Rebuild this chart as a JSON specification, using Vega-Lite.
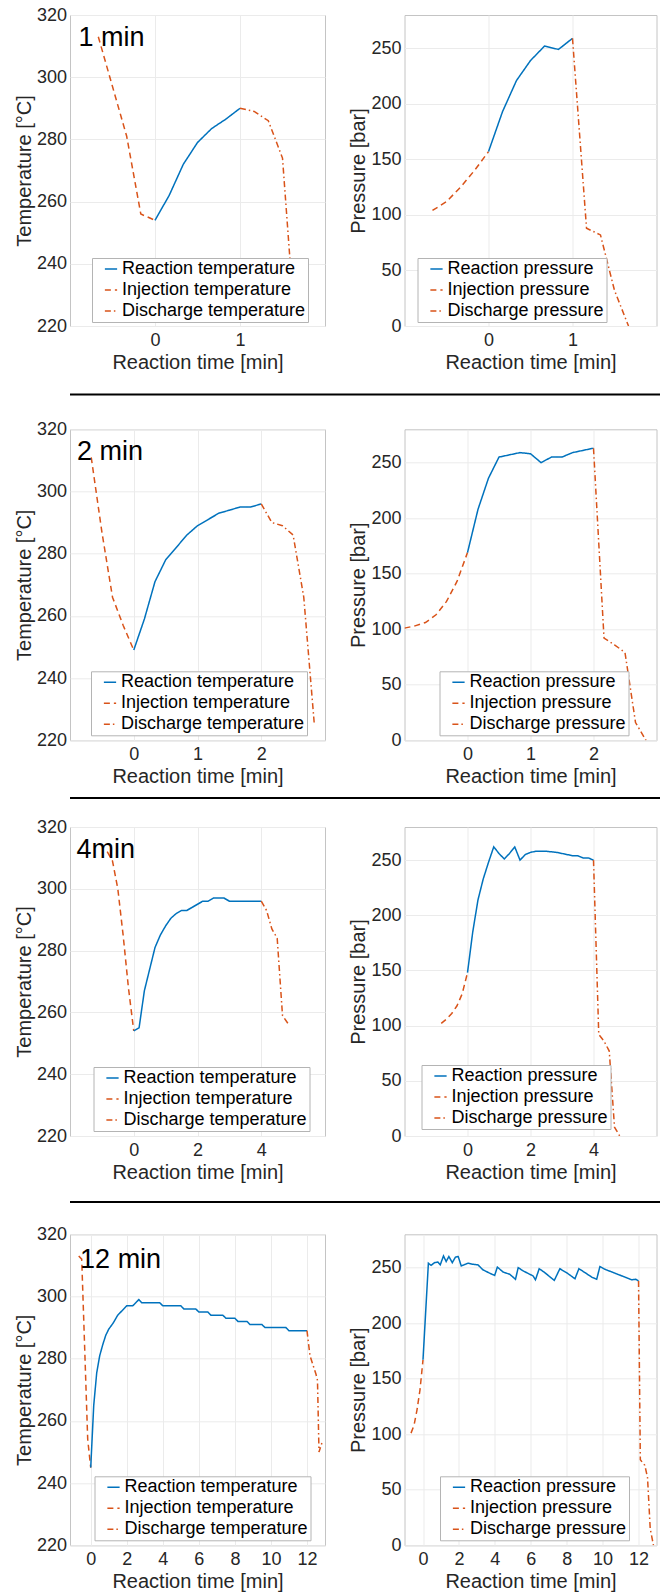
{
"$schema": "https://vega.github.io/schema/vega-lite/v6.json",
"padding": {"left": 13, "top": 5, "right": 0, "bottom": 0},
"background": "white",
"datasets": {
"p1T": [
{"s":"Injection temperature","t":-0.667,"v":313},{"s":"Injection temperature","t":-0.5,"v":297},{"s":"Injection temperature","t":-0.333,"v":281},{"s":"Injection temperature","t":-0.167,"v":256},{"s":"Injection temperature","t":0,"v":254},
{"s":"Reaction temperature","t":0,"v":254},{"s":"Reaction temperature","t":0.167,"v":262},{"s":"Reaction temperature","t":0.333,"v":272},{"s":"Reaction temperature","t":0.5,"v":279},{"s":"Reaction temperature","t":0.667,"v":283.5},{"s":"Reaction temperature","t":0.833,"v":286.5},{"s":"Reaction temperature","t":1,"v":290},
{"s":"Discharge temperature","t":1,"v":290},{"s":"Discharge temperature","t":1.167,"v":289},{"s":"Discharge temperature","t":1.333,"v":286},{"s":"Discharge temperature","t":1.5,"v":274},{"s":"Discharge temperature","t":1.64,"v":222}
],
"p1P": [
{"s":"Injection pressure","t":-0.667,"v":104},{"s":"Injection pressure","t":-0.5,"v":112},{"s":"Injection pressure","t":-0.333,"v":125},{"s":"Injection pressure","t":-0.167,"v":140},{"s":"Injection pressure","t":0,"v":157},
{"s":"Reaction pressure","t":0,"v":157},{"s":"Reaction pressure","t":0.167,"v":193},{"s":"Reaction pressure","t":0.333,"v":221},{"s":"Reaction pressure","t":0.5,"v":239},{"s":"Reaction pressure","t":0.667,"v":252},{"s":"Reaction pressure","t":0.833,"v":249},{"s":"Reaction pressure","t":1,"v":259},
{"s":"Discharge pressure","t":1,"v":259},{"s":"Discharge pressure","t":1.167,"v":88},{"s":"Discharge pressure","t":1.333,"v":82},{"s":"Discharge pressure","t":1.5,"v":32},{"s":"Discharge pressure","t":1.667,"v":0}
],
"p2T": [
{"s":"Injection temperature","t":-0.667,"v":311},{"s":"Injection temperature","t":-0.5,"v":287},{"s":"Injection temperature","t":-0.333,"v":266},{"s":"Injection temperature","t":-0.167,"v":257},{"s":"Injection temperature","t":0,"v":249},
{"s":"Reaction temperature","t":0,"v":249},{"s":"Reaction temperature","t":0.167,"v":259},{"s":"Reaction temperature","t":0.333,"v":271},{"s":"Reaction temperature","t":0.5,"v":278},{"s":"Reaction temperature","t":0.667,"v":282},{"s":"Reaction temperature","t":0.833,"v":286},{"s":"Reaction temperature","t":1,"v":289},{"s":"Reaction temperature","t":1.167,"v":291},{"s":"Reaction temperature","t":1.333,"v":293},{"s":"Reaction temperature","t":1.5,"v":294},{"s":"Reaction temperature","t":1.667,"v":295},{"s":"Reaction temperature","t":1.833,"v":295},{"s":"Reaction temperature","t":2,"v":296},
{"s":"Discharge temperature","t":2,"v":296},{"s":"Discharge temperature","t":2.167,"v":290},{"s":"Discharge temperature","t":2.333,"v":289},{"s":"Discharge temperature","t":2.5,"v":286},{"s":"Discharge temperature","t":2.667,"v":266},{"s":"Discharge temperature","t":2.833,"v":225}
],
"p2P": [
{"s":"Injection pressure","t":-1,"v":101},{"s":"Injection pressure","t":-0.833,"v":103},{"s":"Injection pressure","t":-0.667,"v":106},{"s":"Injection pressure","t":-0.5,"v":113},{"s":"Injection pressure","t":-0.333,"v":125},{"s":"Injection pressure","t":-0.167,"v":143},{"s":"Injection pressure","t":0,"v":169},
{"s":"Reaction pressure","t":0,"v":169},{"s":"Reaction pressure","t":0.167,"v":208},{"s":"Reaction pressure","t":0.333,"v":236},{"s":"Reaction pressure","t":0.5,"v":255},{"s":"Reaction pressure","t":0.667,"v":257},{"s":"Reaction pressure","t":0.833,"v":259},{"s":"Reaction pressure","t":1,"v":258},{"s":"Reaction pressure","t":1.167,"v":250},{"s":"Reaction pressure","t":1.333,"v":255},{"s":"Reaction pressure","t":1.5,"v":255},{"s":"Reaction pressure","t":1.667,"v":259},{"s":"Reaction pressure","t":1.833,"v":261},{"s":"Reaction pressure","t":2,"v":263},
{"s":"Discharge pressure","t":2,"v":263},{"s":"Discharge pressure","t":2.167,"v":92},{"s":"Discharge pressure","t":2.333,"v":86},{"s":"Discharge pressure","t":2.5,"v":79},{"s":"Discharge pressure","t":2.667,"v":16},{"s":"Discharge pressure","t":2.833,"v":0}
],
"p3T": [
{"s":"Injection temperature","t":-0.833,"v":312},{"s":"Injection temperature","t":-0.667,"v":309},{"s":"Injection temperature","t":-0.5,"v":300},{"s":"Injection temperature","t":-0.333,"v":285},{"s":"Injection temperature","t":-0.167,"v":268},{"s":"Injection temperature","t":0,"v":254},
{"s":"Reaction temperature","t":0,"v":254},{"s":"Reaction temperature","t":0.167,"v":255},{"s":"Reaction temperature","t":0.333,"v":267},{"s":"Reaction temperature","t":0.5,"v":274},{"s":"Reaction temperature","t":0.667,"v":281},{"s":"Reaction temperature","t":0.833,"v":285},{"s":"Reaction temperature","t":1,"v":288},{"s":"Reaction temperature","t":1.167,"v":290.5},{"s":"Reaction temperature","t":1.333,"v":292},{"s":"Reaction temperature","t":1.5,"v":293},{"s":"Reaction temperature","t":1.667,"v":293},{"s":"Reaction temperature","t":1.833,"v":294},{"s":"Reaction temperature","t":2,"v":295},{"s":"Reaction temperature","t":2.167,"v":296},{"s":"Reaction temperature","t":2.333,"v":296},{"s":"Reaction temperature","t":2.5,"v":297},{"s":"Reaction temperature","t":2.667,"v":297},{"s":"Reaction temperature","t":2.833,"v":297},{"s":"Reaction temperature","t":3,"v":296},{"s":"Reaction temperature","t":3.5,"v":296},{"s":"Reaction temperature","t":4,"v":296},
{"s":"Discharge temperature","t":4,"v":296},{"s":"Discharge temperature","t":4.167,"v":293},{"s":"Discharge temperature","t":4.333,"v":287},{"s":"Discharge temperature","t":4.5,"v":284},{"s":"Discharge temperature","t":4.667,"v":259},{"s":"Discharge temperature","t":4.833,"v":256.5}
],
"p3P": [
{"s":"Injection pressure","t":-0.833,"v":102},{"s":"Injection pressure","t":-0.667,"v":106},{"s":"Injection pressure","t":-0.5,"v":111},{"s":"Injection pressure","t":-0.333,"v":118},{"s":"Injection pressure","t":-0.167,"v":129},{"s":"Injection pressure","t":0,"v":148},
{"s":"Reaction pressure","t":0,"v":148},{"s":"Reaction pressure","t":0.167,"v":185},{"s":"Reaction pressure","t":0.333,"v":214},{"s":"Reaction pressure","t":0.5,"v":233},{"s":"Reaction pressure","t":0.667,"v":248},{"s":"Reaction pressure","t":0.833,"v":262},{"s":"Reaction pressure","t":1,"v":256},{"s":"Reaction pressure","t":1.167,"v":251},{"s":"Reaction pressure","t":1.333,"v":256},{"s":"Reaction pressure","t":1.5,"v":262},{"s":"Reaction pressure","t":1.667,"v":250},{"s":"Reaction pressure","t":1.833,"v":255},{"s":"Reaction pressure","t":2,"v":257},{"s":"Reaction pressure","t":2.167,"v":258},{"s":"Reaction pressure","t":2.5,"v":258},{"s":"Reaction pressure","t":2.833,"v":257},{"s":"Reaction pressure","t":3,"v":256},{"s":"Reaction pressure","t":3.333,"v":254},{"s":"Reaction pressure","t":3.5,"v":254},{"s":"Reaction pressure","t":3.667,"v":252},{"s":"Reaction pressure","t":3.833,"v":252},{"s":"Reaction pressure","t":4,"v":250},
{"s":"Discharge pressure","t":4,"v":250},{"s":"Discharge pressure","t":4.167,"v":92},{"s":"Discharge pressure","t":4.333,"v":86},{"s":"Discharge pressure","t":4.5,"v":77},{"s":"Discharge pressure","t":4.667,"v":8},{"s":"Discharge pressure","t":4.833,"v":0}
],
"p4T": [
{"s":"Injection temperature","t":-0.667,"v":313},{"s":"Injection temperature","t":-0.5,"v":312},{"s":"Injection temperature","t":-0.333,"v":283},{"s":"Injection temperature","t":-0.167,"v":254},{"s":"Injection temperature","t":0,"v":245},
{"s":"Reaction temperature","t":0,"v":245},{"s":"Reaction temperature","t":0.167,"v":265},{"s":"Reaction temperature","t":0.333,"v":275.5},{"s":"Reaction temperature","t":0.5,"v":281},{"s":"Reaction temperature","t":0.667,"v":284.5},{"s":"Reaction temperature","t":0.833,"v":287.5},{"s":"Reaction temperature","t":1,"v":289.5},{"s":"Reaction temperature","t":1.25,"v":291.5},{"s":"Reaction temperature","t":1.5,"v":294},{"s":"Reaction temperature","t":1.75,"v":295.5},{"s":"Reaction temperature","t":2,"v":297},{"s":"Reaction temperature","t":2.33,"v":297},{"s":"Reaction temperature","t":2.5,"v":298},{"s":"Reaction temperature","t":2.67,"v":299},{"s":"Reaction temperature","t":2.83,"v":298},{"s":"Reaction temperature","t":3.83,"v":298},{"s":"Reaction temperature","t":4,"v":297},{"s":"Reaction temperature","t":5,"v":297},{"s":"Reaction temperature","t":5.17,"v":296},{"s":"Reaction temperature","t":5.83,"v":296},{"s":"Reaction temperature","t":6,"v":295},{"s":"Reaction temperature","t":6.5,"v":295},{"s":"Reaction temperature","t":6.67,"v":294},{"s":"Reaction temperature","t":7.33,"v":294},{"s":"Reaction temperature","t":7.5,"v":293},{"s":"Reaction temperature","t":8,"v":293},{"s":"Reaction temperature","t":8.17,"v":292},{"s":"Reaction temperature","t":8.67,"v":292},{"s":"Reaction temperature","t":8.83,"v":291},{"s":"Reaction temperature","t":9.5,"v":291},{"s":"Reaction temperature","t":9.67,"v":290},{"s":"Reaction temperature","t":10.83,"v":290},{"s":"Reaction temperature","t":11,"v":289},{"s":"Reaction temperature","t":12,"v":289},
{"s":"Discharge temperature","t":12,"v":289},{"s":"Discharge temperature","t":12.167,"v":281},{"s":"Discharge temperature","t":12.5,"v":275},{"s":"Discharge temperature","t":12.583,"v":273},{"s":"Discharge temperature","t":12.667,"v":250},{"s":"Discharge temperature","t":12.833,"v":253}
],
"p4P": [
{"s":"Injection pressure","t":-0.667,"v":101},{"s":"Injection pressure","t":-0.5,"v":108},{"s":"Injection pressure","t":-0.333,"v":122},{"s":"Injection pressure","t":-0.167,"v":140},{"s":"Injection pressure","t":0,"v":167},
{"s":"Reaction pressure","t":0,"v":167},{"s":"Reaction pressure","t":0.3,"v":254},{"s":"Reaction pressure","t":0.45,"v":252},{"s":"Reaction pressure","t":0.64,"v":254.5},{"s":"Reaction pressure","t":0.83,"v":255},{"s":"Reaction pressure","t":0.96,"v":252.5},{"s":"Reaction pressure","t":1.14,"v":260.5},{"s":"Reaction pressure","t":1.29,"v":255.5},{"s":"Reaction pressure","t":1.44,"v":260},{"s":"Reaction pressure","t":1.63,"v":254.5},{"s":"Reaction pressure","t":1.81,"v":259.5},{"s":"Reaction pressure","t":1.96,"v":260},{"s":"Reaction pressure","t":2.13,"v":251.5},{"s":"Reaction pressure","t":2.5,"v":254},{"s":"Reaction pressure","t":2.78,"v":253},{"s":"Reaction pressure","t":3.06,"v":252.5},{"s":"Reaction pressure","t":3.34,"v":248},{"s":"Reaction pressure","t":3.71,"v":245},{"s":"Reaction pressure","t":3.99,"v":243},{"s":"Reaction pressure","t":4.14,"v":250.5},{"s":"Reaction pressure","t":4.46,"v":246},{"s":"Reaction pressure","t":4.83,"v":244},{"s":"Reaction pressure","t":5.15,"v":239.5},{"s":"Reaction pressure","t":5.3,"v":250},{"s":"Reaction pressure","t":5.58,"v":247},{"s":"Reaction pressure","t":6.13,"v":242.5},{"s":"Reaction pressure","t":6.26,"v":239},{"s":"Reaction pressure","t":6.47,"v":249},{"s":"Reaction pressure","t":6.78,"v":245.5},{"s":"Reaction pressure","t":7.31,"v":238.5},{"s":"Reaction pressure","t":7.62,"v":249},{"s":"Reaction pressure","t":7.99,"v":245.5},{"s":"Reaction pressure","t":8.46,"v":240},{"s":"Reaction pressure","t":8.68,"v":249},{"s":"Reaction pressure","t":9.02,"v":245.5},{"s":"Reaction pressure","t":9.39,"v":241.5},{"s":"Reaction pressure","t":9.67,"v":239.5},{"s":"Reaction pressure","t":9.85,"v":251},{"s":"Reaction pressure","t":10.13,"v":248.5},{"s":"Reaction pressure","t":11.63,"v":239},{"s":"Reaction pressure","t":11.85,"v":239.5},{"s":"Reaction pressure","t":12,"v":238},
{"s":"Discharge pressure","t":12,"v":238},{"s":"Discharge pressure","t":12.1,"v":77},{"s":"Discharge pressure","t":12.35,"v":72},{"s":"Discharge pressure","t":12.5,"v":61},{"s":"Discharge pressure","t":12.65,"v":15},{"s":"Discharge pressure","t":12.83,"v":0}
]
},
"spacing": 20.5,
"resolve": {"scale": {"color": "independent", "strokeDash": "independent"}},
"vconcat": [
{
 "hconcat": [
  {"width": 255, "height": 311, "layer": [
   {"data": {"name": "p1T"}, "mark": {"type": "line", "strokeWidth": 1.5, "clip": true},
    "encoding": {
     "x": {"field": "t", "type": "quantitative", "scale": {"domain": [-1, 2], "nice": false, "zero": false}, "axis": {"values": [0, 1], "format": "d", "title": "Reaction time [min]"}},
     "y": {"field": "v", "type": "quantitative", "scale": {"domain": [220, 320], "nice": false, "zero": false}, "axis": {"values": [220, 240, 260, 280, 300, 320], "title": "Temperature [°C]"}},
     "color": {"field": "s", "type": "nominal", "scale": {"domain": ["Reaction temperature", "Injection temperature", "Discharge temperature"], "range": ["#0072BD", "#D95319", "#D95319"]}, "legend": {"title": null, "legendX": 22, "legendY": 243}},
     "strokeDash": {"field": "s", "type": "nominal", "scale": {"domain": ["Reaction temperature", "Injection temperature", "Discharge temperature"], "range": [[1, 0], [6, 4], [6, 3, 1.5, 3]]}, "legend": {"title": null, "legendX": 22, "legendY": 243}}
    }},
   {"data": {"values": [{"label": "1 min"}]}, "mark": {"type": "text", "align": "left", "baseline": "alphabetic", "fontSize": 27, "color": "#000000"},
    "encoding": {"x": {"datum": -0.9}, "y": {"datum": 310}, "text": {"field": "label"}}}
  ]},
  {"width": 252, "height": 311, "data": {"name": "p1P"}, "mark": {"type": "line", "strokeWidth": 1.5, "clip": true},
   "encoding": {
    "x": {"field": "t", "type": "quantitative", "scale": {"domain": [-1, 2], "nice": false, "zero": false}, "axis": {"values": [0, 1], "format": "d", "title": "Reaction time [min]"}},
    "y": {"field": "v", "type": "quantitative", "scale": {"domain": [0, 280], "nice": false, "zero": false}, "axis": {"values": [0, 50, 100, 150, 200, 250], "title": "Pressure [bar]"}},
    "color": {"field": "s", "type": "nominal", "scale": {"domain": ["Reaction pressure", "Injection pressure", "Discharge pressure"], "range": ["#0072BD", "#D95319", "#D95319"]}, "legend": {"title": null, "legendX": 13, "legendY": 243}},
    "strokeDash": {"field": "s", "type": "nominal", "scale": {"domain": ["Reaction pressure", "Injection pressure", "Discharge pressure"], "range": [[1, 0], [6, 4], [6, 3, 1.5, 3]]}, "legend": {"title": null, "legendX": 13, "legendY": 243}}
   }}
 ],
 "spacing": 79.5, "bounds": "flush",
 "resolve": {"scale": {"color": "independent", "strokeDash": "independent"}}
},
{
 "spacing": 23.8,
 "resolve": {"scale": {"color": "independent", "strokeDash": "independent"}},
 "vconcat": [
  {"data": {"values": [{}]}, "width": 642, "height": 1, "view": {"stroke": null}, "mark": {"type": "rule", "color": "#000000", "strokeWidth": 2}, "encoding": {"y": {"datum": 0, "type": "quantitative", "scale": {"domain": [0, 1]}, "axis": null}}},
  {
   "spacing": 9.7,
   "resolve": {"scale": {"color": "independent", "strokeDash": "independent"}},
   "vconcat": [
    {
     "hconcat": [
      {"width": 255, "height": 311, "layer": [
       {"data": {"name": "p2T"}, "mark": {"type": "line", "strokeWidth": 1.5, "clip": true},
        "encoding": {
         "x": {"field": "t", "type": "quantitative", "scale": {"domain": [-1, 3], "nice": false, "zero": false}, "axis": {"values": [0, 1, 2], "format": "d", "title": "Reaction time [min]"}},
         "y": {"field": "v", "type": "quantitative", "scale": {"domain": [220, 320], "nice": false, "zero": false}, "axis": {"values": [220, 240, 260, 280, 300, 320], "title": "Temperature [°C]"}},
         "color": {"field": "s", "type": "nominal", "scale": {"domain": ["Reaction temperature", "Injection temperature", "Discharge temperature"], "range": ["#0072BD", "#D95319", "#D95319"]}, "legend": {"title": null, "legendX": 21, "legendY": 242}},
         "strokeDash": {"field": "s", "type": "nominal", "scale": {"domain": ["Reaction temperature", "Injection temperature", "Discharge temperature"], "range": [[1, 0], [6, 4], [6, 3, 1.5, 3]]}, "legend": {"title": null, "legendX": 21, "legendY": 242}}
        }},
       {"data": {"values": [{"label": "2 min"}]}, "mark": {"type": "text", "align": "left", "baseline": "alphabetic", "fontSize": 27, "color": "#000000"},
        "encoding": {"x": {"datum": -0.89}, "y": {"datum": 310}, "text": {"field": "label"}}}
      ]},
      {"width": 252, "height": 311, "data": {"name": "p2P"}, "mark": {"type": "line", "strokeWidth": 1.5, "clip": true},
       "encoding": {
        "x": {"field": "t", "type": "quantitative", "scale": {"domain": [-1, 3], "nice": false, "zero": false}, "axis": {"values": [0, 1, 2], "format": "d", "title": "Reaction time [min]"}},
        "y": {"field": "v", "type": "quantitative", "scale": {"domain": [0, 280], "nice": false, "zero": false}, "axis": {"values": [0, 50, 100, 150, 200, 250], "title": "Pressure [bar]"}},
        "color": {"field": "s", "type": "nominal", "scale": {"domain": ["Reaction pressure", "Injection pressure", "Discharge pressure"], "range": ["#0072BD", "#D95319", "#D95319"]}, "legend": {"title": null, "legendX": 35, "legendY": 242}},
        "strokeDash": {"field": "s", "type": "nominal", "scale": {"domain": ["Reaction pressure", "Injection pressure", "Discharge pressure"], "range": [[1, 0], [6, 4], [6, 3, 1.5, 3]]}, "legend": {"title": null, "legendX": 35, "legendY": 242}}
       }}
     ],
     "spacing": 79.5, "bounds": "flush",
     "resolve": {"scale": {"color": "independent", "strokeDash": "independent"}}
    },
    {
     "spacing": 18,
     "resolve": {"scale": {"color": "independent", "strokeDash": "independent"}},
     "vconcat": [
      {"data": {"values": [{}]}, "width": 642, "height": 1, "view": {"stroke": null}, "mark": {"type": "rule", "color": "#000000", "strokeWidth": 2}, "encoding": {"y": {"datum": 0, "type": "quantitative", "scale": {"domain": [0, 1]}, "axis": null}}},
      {
       "spacing": 18,
       "resolve": {"scale": {"color": "independent", "strokeDash": "independent"}},
       "vconcat": [
        {
         "hconcat": [
          {"width": 255, "height": 309, "layer": [
           {"data": {"name": "p3T"}, "mark": {"type": "line", "strokeWidth": 1.5, "clip": true},
            "encoding": {
             "x": {"field": "t", "type": "quantitative", "scale": {"domain": [-2, 6], "nice": false, "zero": false}, "axis": {"values": [0, 2, 4], "format": "d", "title": "Reaction time [min]"}},
             "y": {"field": "v", "type": "quantitative", "scale": {"domain": [220, 320], "nice": false, "zero": false}, "axis": {"values": [220, 240, 260, 280, 300, 320], "title": "Temperature [°C]"}},
             "color": {"field": "s", "type": "nominal", "scale": {"domain": ["Reaction temperature", "Injection temperature", "Discharge temperature"], "range": ["#0072BD", "#D95319", "#D95319"]}, "legend": {"title": null, "legendX": 23.5, "legendY": 240}},
             "strokeDash": {"field": "s", "type": "nominal", "scale": {"domain": ["Reaction temperature", "Injection temperature", "Discharge temperature"], "range": [[1, 0], [6, 4], [6, 3, 1.5, 3]]}, "legend": {"title": null, "legendX": 23.5, "legendY": 240}}
            }},
           {"data": {"values": [{"label": "4min"}]}, "mark": {"type": "text", "align": "left", "baseline": "alphabetic", "fontSize": 27, "color": "#000000"},
            "encoding": {"x": {"datum": -1.8}, "y": {"datum": 310}, "text": {"field": "label"}}}
          ]},
          {"width": 252, "height": 309, "data": {"name": "p3P"}, "mark": {"type": "line", "strokeWidth": 1.5, "clip": true},
           "encoding": {
            "x": {"field": "t", "type": "quantitative", "scale": {"domain": [-2, 6], "nice": false, "zero": false}, "axis": {"values": [0, 2, 4], "format": "d", "title": "Reaction time [min]"}},
            "y": {"field": "v", "type": "quantitative", "scale": {"domain": [0, 280], "nice": false, "zero": false}, "axis": {"values": [0, 50, 100, 150, 200, 250], "title": "Pressure [bar]"}},
            "color": {"field": "s", "type": "nominal", "scale": {"domain": ["Reaction pressure", "Injection pressure", "Discharge pressure"], "range": ["#0072BD", "#D95319", "#D95319"]}, "legend": {"title": null, "legendX": 17, "legendY": 238}},
            "strokeDash": {"field": "s", "type": "nominal", "scale": {"domain": ["Reaction pressure", "Injection pressure", "Discharge pressure"], "range": [[1, 0], [6, 4], [6, 3, 1.5, 3]]}, "legend": {"title": null, "legendX": 17, "legendY": 238}}
           }}
         ],
         "spacing": 79.5, "bounds": "flush",
         "resolve": {"scale": {"color": "independent", "strokeDash": "independent"}}
        },
        {
         "spacing": 21.3,
         "resolve": {"scale": {"color": "independent", "strokeDash": "independent"}},
         "vconcat": [
          {"data": {"values": [{}]}, "width": 642, "height": 1, "view": {"stroke": null}, "mark": {"type": "rule", "color": "#000000", "strokeWidth": 2}, "encoding": {"y": {"datum": 0, "type": "quantitative", "scale": {"domain": [0, 1]}, "axis": null}}},
          {
           "hconcat": [
            {"width": 255, "height": 311, "layer": [
             {"data": {"name": "p4T"}, "mark": {"type": "line", "strokeWidth": 1.5, "clip": true},
              "encoding": {
               "x": {"field": "t", "type": "quantitative", "scale": {"domain": [-1.15, 13], "nice": false, "zero": false}, "axis": {"values": [0, 2, 4, 6, 8, 10, 12], "format": "d", "title": "Reaction time [min]"}},
               "y": {"field": "v", "type": "quantitative", "scale": {"domain": [220, 320], "nice": false, "zero": false}, "axis": {"values": [220, 240, 260, 280, 300, 320], "title": "Temperature [°C]"}},
               "color": {"field": "s", "type": "nominal", "scale": {"domain": ["Reaction temperature", "Injection temperature", "Discharge temperature"], "range": ["#0072BD", "#D95319", "#D95319"]}, "legend": {"title": null, "legendX": 24.5, "legendY": 242}},
               "strokeDash": {"field": "s", "type": "nominal", "scale": {"domain": ["Reaction temperature", "Injection temperature", "Discharge temperature"], "range": [[1, 0], [6, 4], [6, 3, 1.5, 3]]}, "legend": {"title": null, "legendX": 24.5, "legendY": 242}}
              }},
             {"data": {"values": [{"label": "12 min"}]}, "mark": {"type": "text", "align": "left", "baseline": "alphabetic", "fontSize": 27, "color": "#000000"},
              "encoding": {"x": {"datum": -0.59}, "y": {"datum": 309.3}, "text": {"field": "label"}}}
            ]},
            {"width": 252, "height": 311, "data": {"name": "p4P"}, "mark": {"type": "line", "strokeWidth": 1.5, "clip": true},
             "encoding": {
              "x": {"field": "t", "type": "quantitative", "scale": {"domain": [-1.03, 13], "nice": false, "zero": false}, "axis": {"values": [0, 2, 4, 6, 8, 10, 12], "format": "d", "title": "Reaction time [min]"}},
              "y": {"field": "v", "type": "quantitative", "scale": {"domain": [0, 280], "nice": false, "zero": false}, "axis": {"values": [0, 50, 100, 150, 200, 250], "title": "Pressure [bar]"}},
              "color": {"field": "s", "type": "nominal", "scale": {"domain": ["Reaction pressure", "Injection pressure", "Discharge pressure"], "range": ["#0072BD", "#D95319", "#D95319"]}, "legend": {"title": null, "legendX": 35.5, "legendY": 242}},
              "strokeDash": {"field": "s", "type": "nominal", "scale": {"domain": ["Reaction pressure", "Injection pressure", "Discharge pressure"], "range": [[1, 0], [6, 4], [6, 3, 1.5, 3]]}, "legend": {"title": null, "legendX": 35.5, "legendY": 242}}
             }}
           ],
           "spacing": 79.5, "bounds": "flush",
           "resolve": {"scale": {"color": "independent", "strokeDash": "independent"}}
          }
         ]
        }
       ]
      }
     ]
    }
   ]
  }
 ]
}
],
"config": {
 "font": "Liberation Sans",
 "view": {"stroke": "#c4c4c4", "strokeWidth": 1},
 "axis": {"grid": true, "gridColor": "#ebebeb", "gridWidth": 1, "domain": false, "ticks": false, "tickSize": 0, "labelFontSize": 18, "labelColor": "#262626", "titleColor": "#262626", "titleFontWeight": "normal", "titleFontSize": 20},
 "axisX": {"labelPadding": 5, "titlePadding": 3},
 "axisY": {"labelPadding": 3.5, "titlePadding": 2},
 "legend": {"orient": "none", "fillColor": "#ffffff", "strokeColor": "#b4b4b4", "padding": 2, "labelFontSize": 18, "labelColor": "#000000", "symbolType": "stroke", "symbolSize": 150, "symbolStrokeWidth": 1.5, "labelOffset": 2, "rowPadding": 3, "symbolOffset": 8, "labelLimit": 400}
}
}
